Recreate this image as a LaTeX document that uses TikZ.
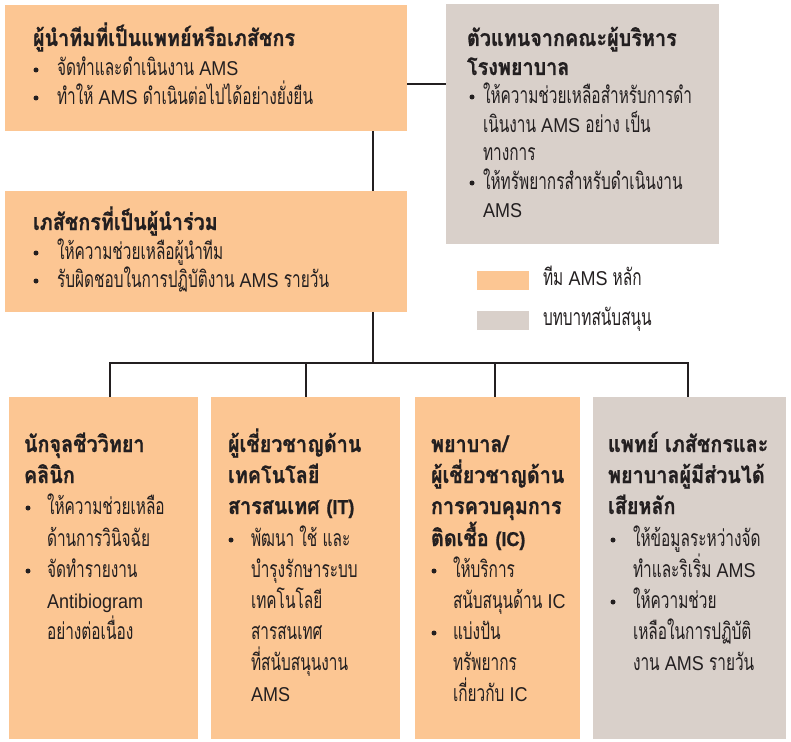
\documentclass[tikz,border=0pt]{standalone}
\usepackage{fontspec}
\setmainfont[Script=Thai,FakeStretch=0.67,BoldFeatures={FakeStretch=0.86,FakeBold=0.8}]{Loma}
\newfontfamily\latf[FakeStretch=0.9,BoldFeatures={FakeBold=0.8}]{Liberation Sans}
\newcommand\La[1]{{\latf\fontsize{20}{24}\selectfont #1}}
\usetikzlibrary{calc}
\definecolor{coreC}{HTML}{FCC693}
\definecolor{suppC}{HTML}{D9D0CA}
\definecolor{inkC}{HTML}{231F20}
\newcommand\Ln[4]{\node[tl] (#1) at (#2,#3) {#4};}
\newcommand\Tl[4]{\node[tt] (#1) at (#2,#3) {#4};}
\newcommand\Dt[3]{\node[dot] (#1) at (#2,#3-6) {};}
\begin{document}
\begin{tikzpicture}[x=1pt,y=-1pt,
  box/.style={draw=none, inner sep=0, outer sep=0, anchor=north west},
  core/.style={box, fill=coreC},
  supp/.style={box, fill=suppC},
  conn/.style={draw=inkC, line width=2.4pt},
  tl/.style={anchor=base west, inner sep=0, outer sep=0, text=inkC, font=\fontsize{23}{26}\selectfont},
  tt/.style={tl, font=\fontsize{23}{26}\selectfont\bfseries},
  dot/.style={circle, fill=inkC, inner sep=0, minimum size=5pt}]
\useasboundingbox (0,0) rectangle (791,741);
% boxes
\node[core, minimum width=402pt, minimum height=126pt] (lead) at (5,5) {};
\node[supp, minimum width=273pt, minimum height=240pt] (admin) at (446,4) {};
\node[core, minimum width=402pt, minimum height=121pt] (colead) at (5,191) {};
\node[core, minimum width=189pt, minimum height=342pt] (micro) at (9,397) {};
\node[core, minimum width=189pt, minimum height=342pt] (itx) at (211,397) {};
\node[core, minimum width=165pt, minimum height=342pt] (icx) at (415,397) {};
\node[supp, minimum width=193pt, minimum height=342pt] (stake) at (593,397) {};
% legend
\node[core, minimum width=52pt, minimum height=19pt] (legA) at (477,271) {};
\node[supp, minimum width=52pt, minimum height=19pt] (legB) at (477,311) {};
\Ln{legAt}{543}{285}{ทีม \La{AMS} หลัก}
\Ln{legBt}{543}{325}{บทบาทสนับสนุน}
% connectors
\coordinate (lev) at (0,84);
\coordinate (spine) at (373,0);
\coordinate (bus) at (0,363);
\coordinate (d1) at (110,0);
\coordinate (d2) at (306,0);
\coordinate (d3) at (495,0);
\coordinate (d4) at (688,0);
\draw[conn] (lead.east |- lev) -- (admin.west |- lev);
\draw[conn] (lead.south -| spine) -- (colead.north -| spine);
\draw[conn] (colead.south -| spine) -- (bus -| spine);
\draw[conn] (micro.north -| d1) -- (bus -| d1) -- (bus -| d4) -- (stake.north -| d4);
\draw[conn] (bus -| d2) -- (itx.north -| d2);
\draw[conn] (bus -| d3) -- (icx.north -| d3);
% lead text
\Tl{leadT}{33}{46}{ผู้นำทีมที่เป็นแพทย์หรือเภสัชกร}
\Dt{leadD1}{36}{76}\Ln{leadL1}{57}{76}{จัดทำและดำเนินงาน \La{AMS}}
\Dt{leadD2}{36}{104}\Ln{leadL2}{57}{104}{ทำให้ \La{AMS} ดำเนินต่อไปได้อย่างยั่งยืน}
% admin text
\Tl{adminT1}{467}{46}{ตัวแทนจากคณะผู้บริหาร}
\Tl{adminT2}{467}{75}{โรงพยาบาล}
\Dt{adminD1}{472}{103}\Ln{adminL1}{483}{103}{ให้ความช่วยเหลือสำหรับการดำ}
\Ln{adminL2}{483}{132}{เนินงาน \La{AMS} อย่าง เป็น}
\Ln{adminL3}{483}{160}{ทางการ}
\Dt{adminD2}{472}{189}\Ln{adminL4}{483}{189}{ให้ทรัพยากรสำหรับดำเนินงาน}
\Ln{adminL5}{483}{217}{\La{AMS}}
% colead text
\Tl{coleadT}{33}{230}{เภสัชกรที่เป็นผู้นำร่วม}
\Dt{coleadD1}{36}{259}\Ln{coleadL1}{57}{259}{ให้ความช่วยเหลือผู้นำทีม}
\Dt{coleadD2}{36}{287}\Ln{coleadL2}{57}{287}{รับผิดชอบในการปฏิบัติงาน \La{AMS} รายวัน}
% micro text
\Tl{microT1}{24}{452}{นักจุลชีววิทยา}
\Tl{microT2}{24}{483}{คลินิก}
\Dt{microD1}{28}{514}\Ln{microL1}{47}{514}{ให้ความช่วยเหลือ}
\Ln{microL2}{47}{546}{ด้านการวินิจฉัย}
\Dt{microD2}{28}{577}\Ln{microL3}{47}{577}{จัดทำรายงาน}
\Ln{microL4}{47}{608}{\La{Antibiogram}}
\Ln{microL5}{47}{639}{อย่างต่อเนื่อง}
% it text
\Tl{itxT1}{228}{452}{ผู้เชี่ยวชาญด้าน}
\Tl{itxT2}{228}{483}{เทคโนโลยี}
\Tl{itxT3}{228}{514}{สารสนเทศ \La{\bfseries(IT)}}
\Dt{itxD1}{231}{546}\Ln{itxL1}{251}{546}{พัฒนา ใช้ และ}
\Ln{itxL2}{251}{577}{บำรุงรักษาระบบ}
\Ln{itxL3}{251}{608}{เทคโนโลยี}
\Ln{itxL4}{251}{639}{สารสนเทศ}
\Ln{itxL5}{251}{670}{ที่สนับสนุนงาน}
\Ln{itxL6}{251}{701}{\La{AMS}}
% ic text
\Tl{icxT1}{431}{452}{พยาบาล/}
\Tl{icxT2}{431}{483}{ผู้เชี่ยวชาญด้าน}
\Tl{icxT3}{431}{514}{การควบคุมการ}
\Tl{icxT4}{431}{546}{ติดเชื้อ \La{\bfseries(IC)}}
\Dt{icxD1}{434}{577}\Ln{icxL1}{453}{577}{ให้บริการ}
\Ln{icxL2}{453}{608}{สนับสนุนด้าน \La{IC}}
\Dt{icxD2}{434}{639}\Ln{icxL3}{453}{639}{แบ่งปัน}
\Ln{icxL4}{453}{670}{ทรัพยากร}
\Ln{icxL5}{453}{701}{เกี่ยวกับ \La{IC}}
% stake text
\Tl{stakeT1}{608}{452}{แพทย์ เภสัชกรและ}
\Tl{stakeT2}{608}{483}{พยาบาลผู้มีส่วนได้}
\Tl{stakeT3}{608}{514}{เสียหลัก}
\Dt{stakeD1}{613}{546}\Ln{stakeL1}{633}{546}{ให้ข้อมูลระหว่างจัด}
\Ln{stakeL2}{633}{577}{ทำและริเริ่ม \La{AMS}}
\Dt{stakeD2}{613}{608}\Ln{stakeL3}{633}{608}{ให้ความช่วย}
\Ln{stakeL4}{633}{639}{เหลือในการปฏิบัติ}
\Ln{stakeL5}{633}{670}{งาน \La{AMS} รายวัน}
\end{tikzpicture}
\end{document}
